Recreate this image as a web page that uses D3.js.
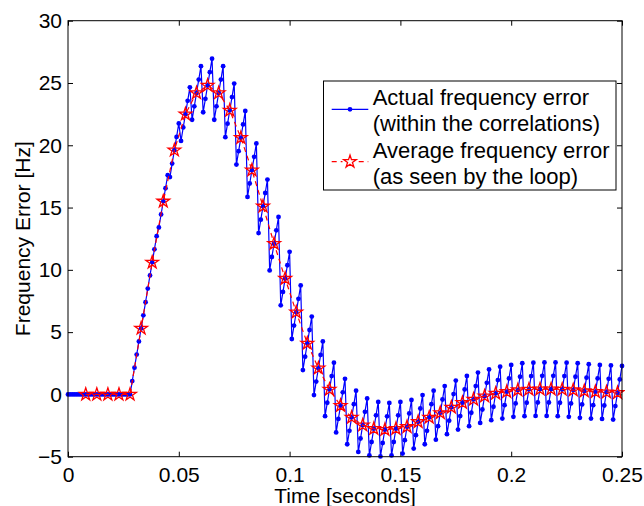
<!DOCTYPE html>
<html>
<head>
<meta charset="utf-8">
<script src="https://cdn.jsdelivr.net/npm/d3@7"></script>
<style>
  body { margin: 0; background: #fff; }
  text { font-family: "Liberation Sans", Arial, Helvetica, sans-serif; }
</style>
</head>
<body>
<svg id="chart" width="644" height="506"></svg>
<script>
// Sampling of the actual frequency error: one sample per millisecond
const sampleStep = 0.001;

// Actual frequency error (within the correlations), Hz, t = 0 ... 0.25 s
const actualError = [
  0, 0, 0, 0, 0, 0,
  0, 0, 0, 0, 0,
  0, 0, 0, 0, 0,
  0, 0, 0, 0, 0,
  0, 0, 0, 0, 0,
  0, 0, 0, 1.07, 2.15,
  3.2, 4.25, 5.3, 6.35, 7.4,
  8.5, 9.55, 10.6, 11.65, 12.7,
  13.4, 14.45, 15.5, 16.55, 17.6,
  17.45, 18.53, 19.6, 20.67, 21.75,
  20.35, 21.43, 22.5, 23.57, 24.65,
  22.05, 23.13, 24.2, 25.27, 26.35,
  22.65, 23.73, 24.8, 25.87, 26.95,
  22.05, 23.13, 24.2, 25.27, 26.35,
  20.65, 21.73, 22.8, 23.87, 24.95,
  18.45, 19.53, 20.6, 21.67, 22.75,
  15.85, 16.93, 18.0, 19.07, 20.15,
  12.95, 14.03, 15.1, 16.17, 17.25,
  9.95, 11.03, 12.1, 13.17, 14.25,
  7.15, 8.23, 9.3, 10.37, 11.45,
  4.45, 5.53, 6.6, 7.67, 8.75,
  1.95, 3.03, 4.1, 5.17, 6.25,
  -0.05, 1.03, 2.1, 3.17, 4.25,
  -1.75, -0.67, 0.4, 1.47, 2.55,
  -3.05, -1.97, -0.9, 0.17, 1.25,
  -4.0, -2.92, -1.85, -0.78, 0.3,
  -4.62, -3.54, -2.47, -1.4, -0.32,
  -4.9, -3.82, -2.75, -1.68, -0.6,
  -4.98, -3.9, -2.83, -1.76, -0.68,
  -4.9, -3.82, -2.75, -1.68, -0.6,
  -4.75, -3.67, -2.6, -1.53, -0.45,
  -4.35, -3.27, -2.2, -1.13, -0.05,
  -4.0, -2.92, -1.85, -0.78, 0.3,
  -3.63, -2.55, -1.48, -0.41, 0.67,
  -3.19, -2.11, -1.04, 0.03, 1.11,
  -2.82, -1.74, -0.67, 0.4, 1.48,
  -2.55, -1.47, -0.4, 0.67, 1.75,
  -2.29, -1.21, -0.14, 0.93, 2.01,
  -2.07, -0.99, 0.08, 1.15, 2.23,
  -1.94, -0.86, 0.21, 1.28, 2.36,
  -1.8, -0.72, 0.35, 1.42, 2.5,
  -1.75, -0.67, 0.4, 1.47, 2.55,
  -1.73, -0.65, 0.42, 1.49, 2.57,
  -1.73, -0.65, 0.42, 1.49, 2.57,
  -1.75, -0.67, 0.4, 1.47, 2.55,
  -1.8, -0.72, 0.35, 1.42, 2.5,
  -1.88, -0.8, 0.27, 1.34, 2.42,
  -1.94, -0.86, 0.21, 1.28, 2.36,
  -1.97, -0.89, 0.18, 1.25, 2.33,
  -2.02, -0.94, 0.13, 1.2, 2.28
];

// Average frequency error (as seen by the loop), one value per 5 ms loop update
const averageTime = [
  0.008, 0.013, 0.018, 0.023, 0.028, 0.033, 0.038, 0.043, 0.048, 0.053,
  0.058, 0.063, 0.068, 0.073, 0.078, 0.083, 0.088, 0.093, 0.098, 0.103,
  0.108, 0.113, 0.118, 0.123, 0.128, 0.133, 0.138, 0.143, 0.148, 0.153,
  0.158, 0.163, 0.168, 0.173, 0.178, 0.183, 0.188, 0.193, 0.198, 0.203,
  0.208, 0.213, 0.218, 0.223, 0.228, 0.233, 0.238, 0.243, 0.248
];
const averageError = [
  0, 0, 0, 0, 0, 5.3, 10.6, 15.5, 19.6, 22.5,
  24.2, 24.8, 24.2, 22.8, 20.6, 18.0, 15.1, 12.1, 9.3, 6.6,
  4.1, 2.1, 0.4, -0.9, -1.85, -2.47, -2.75, -2.83, -2.75, -2.6,
  -2.2, -1.85, -1.48, -1.04, -0.67, -0.4, -0.14, 0.08, 0.21, 0.35,
  0.4, 0.42, 0.42, 0.4, 0.35, 0.27, 0.21, 0.18, 0.13
];

const xTicks = [0, 0.05, 0.1, 0.15, 0.2, 0.25];
const xTickLabels = ['0', '0.05', '0.1', '0.15', '0.2', '0.25'];
const yTicks = [-5, 0, 5, 10, 15, 20, 25, 30];
const yTickLabels = ['\u22125', '0', '5', '10', '15', '20', '25', '30'];

const legendLabels = [
  ['Actual frequency error', '(within the correlations)'],
  ['Average frequency error', '(as seen by the loop)']
];

const svg = d3.select('#chart');
const fontSize = 21;

const margin = { top: 20.7, right: 22, bottom: 49.3, left: 68 };
const width = 644 - margin.left - margin.right;
const height = 506 - margin.top - margin.bottom;

const xScale = d3.scaleLinear().domain([0, 0.25]).range([0, width]);
const yScale = d3.scaleLinear().domain([-5, 30]).range([height, 0]);

const g = svg.append('g')
  .attr('transform', `translate(${margin.left},${margin.top})`);

const clip = svg.append('defs').append('clipPath').attr('id', 'plot-clip');
clip.append('rect').attr('x', -3).attr('y', -3).attr('width', width + 6).attr('height', height + 6);

// axes with inward ticks, on all four sides
const xAxis = d3.axisBottom(xScale).tickValues(xTicks)
  .tickFormat((d, i) => xTickLabels[i]).tickSizeInner(-5).tickSizeOuter(0).tickPadding(10);
const yAxis = d3.axisLeft(yScale).tickValues(yTicks)
  .tickFormat((d, i) => yTickLabels[i]).tickSizeInner(-5).tickSizeOuter(0).tickPadding(6);

const gx = g.append('g').attr('transform', `translate(0,${height})`).call(xAxis);
const gy = g.append('g').call(yAxis);
const gxTop = g.append('g').call(d3.axisTop(xScale).tickValues(xTicks).tickFormat('').tickSizeInner(-5).tickSizeOuter(0));
const gyRight = g.append('g').attr('transform', `translate(${width},0)`)
  .call(d3.axisRight(yScale).tickValues(yTicks).tickFormat('').tickSizeInner(-5).tickSizeOuter(0));

[gx, gy, gxTop, gyRight].forEach(a => {
  a.select('.domain').remove();
  a.selectAll('line').attr('stroke', '#000').attr('stroke-width', 1);
  a.selectAll('text').attr('fill', '#000').style('font-size', fontSize + 'px')
    .style('font-family', '"Liberation Sans", Arial, sans-serif');
});
gx.selectAll('text').attr('dy', '0.71em');

// data lines
const plot = g.append('g').attr('clip-path', 'url(#plot-clip)');

const actualPoints = actualError.map((v, i) => [i * sampleStep, v]);
const avgPoints = averageError.map((v, i) => [averageTime[i], v]);

const line = d3.line().x(d => xScale(d[0])).y(d => yScale(d[1]));

plot.append('path')
  .datum(actualPoints)
  .attr('d', line)
  .attr('fill', 'none')
  .attr('stroke', '#0000ff')
  .attr('stroke-width', 1.2);

plot.selectAll('circle.actual')
  .data(actualPoints)
  .enter()
  .append('circle')
  .attr('class', 'actual')
  .attr('cx', d => xScale(d[0]))
  .attr('cy', d => yScale(d[1]))
  .attr('r', 2.4)
  .attr('fill', '#0000ff');

plot.append('path')
  .datum(avgPoints)
  .attr('d', line)
  .attr('fill', 'none')
  .attr('stroke', '#ff0000')
  .attr('stroke-width', 1.2)
  .attr('stroke-dasharray', '5,4');

const star = d3.symbol().type(d3.symbolStar).size(50);

plot.selectAll('path.avg')
  .data(avgPoints)
  .enter()
  .append('path')
  .attr('class', 'avg')
  .attr('d', star)
  .attr('transform', d => `translate(${xScale(d[0])},${yScale(d[1])})`)
  .attr('fill', 'none')
  .attr('stroke', '#ff0000')
  .attr('stroke-width', 1.3);

// axes box
g.append('rect')
  .attr('width', width)
  .attr('height', height)
  .attr('fill', 'none')
  .attr('stroke', '#000')
  .attr('stroke-width', 1);

// axis labels
svg.append('text')
  .attr('x', margin.left + width / 2)
  .attr('y', 503)
  .attr('text-anchor', 'middle')
  .style('font-size', fontSize + 'px')
  .text('Time [seconds]');

svg.append('text')
  .attr('transform', `translate(29.5,${margin.top + height / 2}) rotate(-90)`)
  .attr('text-anchor', 'middle')
  .style('font-size', fontSize + 'px')
  .text('Frequency Error [Hz]');

// legend
const legend = svg.append('g').attr('transform', 'translate(323.5,81)');
legend.append('rect')
  .attr('width', 292.5)
  .attr('height', 109)
  .attr('fill', '#fff')
  .attr('stroke', '#000')
  .attr('stroke-width', 1);

const legendRows = [
  { y: 28.3, color: '#0000ff', dash: null, baselines: [24, 49.7] },
  { y: 80.7, color: '#ff0000', dash: '5,4', baselines: [77.3, 103] }
];

legendRows.forEach((row, i) => {
  legend.append('line')
    .attr('x1', 8.2).attr('x2', 44.8)
    .attr('y1', row.y).attr('y2', row.y)
    .attr('stroke', row.color)
    .attr('stroke-width', 1.2)
    .attr('stroke-dasharray', row.dash);
  if (i === 0) {
    legend.append('circle').attr('cx', 26.5).attr('cy', row.y).attr('r', 2.4).attr('fill', row.color);
  } else {
    legend.append('rect').attr('x', 19).attr('y', row.y - 8).attr('width', 15).attr('height', 16).attr('fill', '#fff');
    legend.append('path').attr('d', star)
      .attr('transform', `translate(26.5,${row.y})`)
      .attr('fill', 'none').attr('stroke', row.color).attr('stroke-width', 1.3);
  }
  legendLabels[i].forEach((label, j) => {
    legend.append('text')
      .attr('x', 49.2)
      .attr('y', row.baselines[j])
      .style('font-size', '22px')
      .text(label);
  });
});
</script>
</body>
</html>
